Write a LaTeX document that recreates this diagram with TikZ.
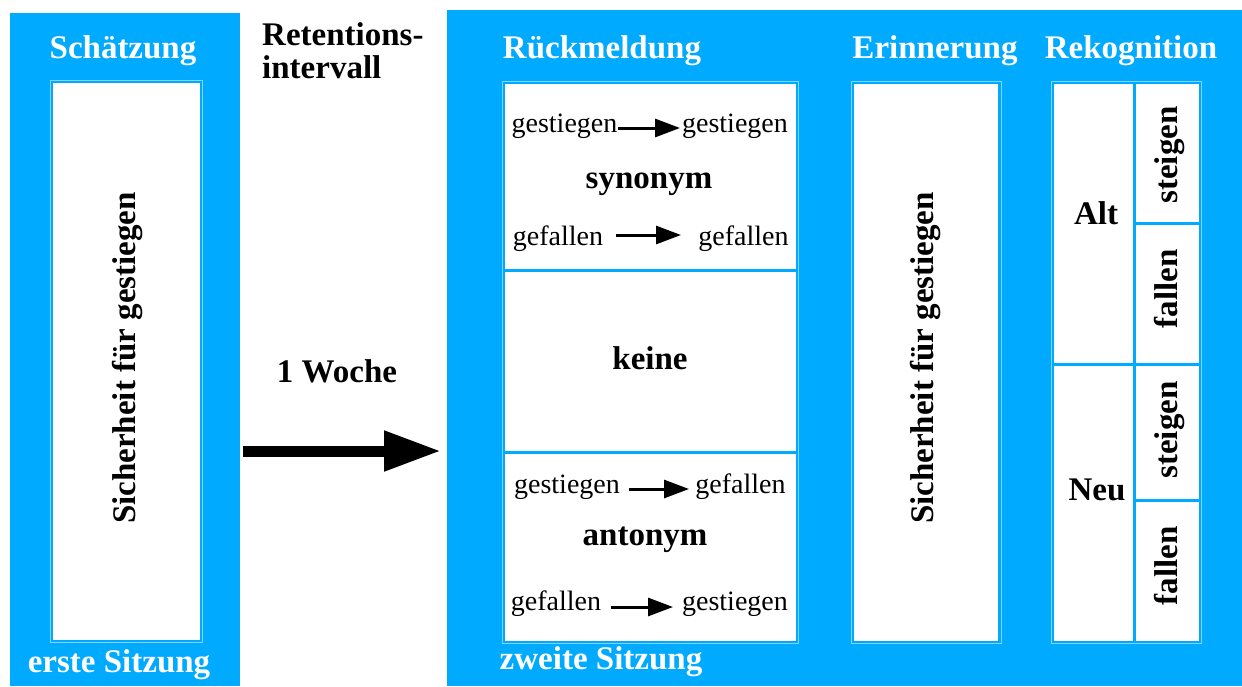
\documentclass[tikz,border=0pt]{standalone}
\usepackage{fontspec}
\setmainfont{Liberation Serif}
\usetikzlibrary{arrows.meta}
\definecolor{panelblue}{HTML}{00AAFF}
\definecolor{edgeblue}{HTML}{80D4FF}
\tikzset{
  panel/.style={fill=panelblue, draw=none},
  cardedge/.style={draw=edgeblue, line width=1pt},
  card/.style={fill=white, draw=none},
  divider/.style={draw=panelblue, line width=3pt},
  head/.style={font=\fontsize{33}{36}\selectfont\bfseries, text=white, inner sep=0pt, anchor=base},
  label/.style={font=\fontsize{33}{36}\selectfont\bfseries, text=black, inner sep=0pt, anchor=base},
  word/.style={font=\fontsize{28}{32}\selectfont, text=black, inner sep=0pt, anchor=base},
  vlabel/.style={label, rotate=90},
  smallarrow/.style={line width=3pt, -{Triangle[length=25pt,width=18pt]}},
  bigarrow/.style={line width=11pt, -{Triangle[length=57pt,width=38pt]}}
}
\begin{document}
\begin{tikzpicture}[x=1pt, y=-1pt]
\useasboundingbox (0,0) rectangle (1242,686);
\fill[white] (0,0) rectangle (1242,686);

% blue panels
\path[panel] (10,13) rectangle (240,686);
\path[panel] (447,10) rectangle (1242,686);

% first session card
\draw[cardedge] (50.5,80.5) rectangle (202.5,642.5);
\path[card] (53,83) rectangle (200,640);

% feedback card with three rows
\draw[cardedge] (502.5,81.5) rectangle (798,643);
\path[card] (505,84) rectangle (796,641);
\draw[divider] (505,270) -- (796,270);
\draw[divider] (505,452) -- (796,452);

% recall card
\draw[cardedge] (851.5,81.5) rectangle (1001,643);
\path[card] (854,84) rectangle (998,641);

% recognition card
\draw[cardedge] (1051.5,81.5) rectangle (1201,643);
\path[card] (1053.5,83.5) rectangle (1199,641);
\draw[divider] (1134,83.5) -- (1134,641);
\draw[divider] (1053.5,364) -- (1199,364);
\draw[divider] (1134,223) -- (1199,223);
\draw[divider] (1134,500) -- (1199,500);

% headings
\node[head] (hschaetzung) at (123,58) {Schätzung};
\node[head] (hrueck) at (602,58) {Rückmeldung};
\node[head] (herinn) at (935,58) {Erinnerung};
\node[head] (hrekog) at (1131,58) {Rekognition};
\node[head] (hsitz1) at (119,672) {erste Sitzung};
\node[head] (hsitz2) at (601,669) {zweite Sitzung};

\node[label, anchor=base west] (ret1) at (262,45) {Retentions-};
\node[label, anchor=base west] (ret2) at (262,78) {intervall};
\node[label] (woche) at (337,382) {1 Woche};

% retention interval arrow
\coordinate (bigstart) at (243,451);
\coordinate (bigend) at (441,451);
\draw[bigarrow] (bigstart) -- (bigend);

% rotated card labels
\node[vlabel] (sich1) at (135,358) {Sicherheit für gestiegen};
\node[vlabel] (sich2) at (933,358) {Sicherheit für gestiegen};

% feedback rows
\node[word] (s1l) at (564.5,132) {gestiegen};
\node[word] (s1r) at (735,132) {gestiegen};
\coordinate (s1a) at (618,128);
\coordinate (s1b) at (680,128);
\draw[smallarrow] (s1a) -- (s1b);
\node[label] (syn) at (649,188) {synonym};
\node[word] (s2l) at (558,245) {gefallen};
\node[word] (s2r) at (743.5,245) {gefallen};
\coordinate (s2a) at (616,235);
\coordinate (s2b) at (681,235);
\draw[smallarrow] (s2a) -- (s2b);

\node[label] (keine) at (650,369) {keine};

\node[word] (a1l) at (567,493) {gestiegen};
\node[word] (a1r) at (740.5,493) {gefallen};
\coordinate (a1a) at (629,489);
\coordinate (a1b) at (689,489);
\draw[smallarrow] (a1a) -- (a1b);
\node[label] (ant) at (645,545) {antonym};
\node[word] (a2l) at (556,610) {gefallen};
\node[word] (a2r) at (735,610) {gestiegen};
\coordinate (a2a) at (611,607);
\coordinate (a2b) at (673,607);
\draw[smallarrow] (a2a) -- (a2b);

% recognition labels
\node[label] (alt) at (1096,224) {Alt};
\node[label] (neu) at (1097,500) {Neu};
\node[vlabel] (st1) at (1177,155) {steigen};
\node[vlabel] (fa1) at (1177,289) {fallen};
\node[vlabel] (st2) at (1177,430) {steigen};
\node[vlabel] (fa2) at (1177,566) {fallen};
\end{tikzpicture}
\end{document}
